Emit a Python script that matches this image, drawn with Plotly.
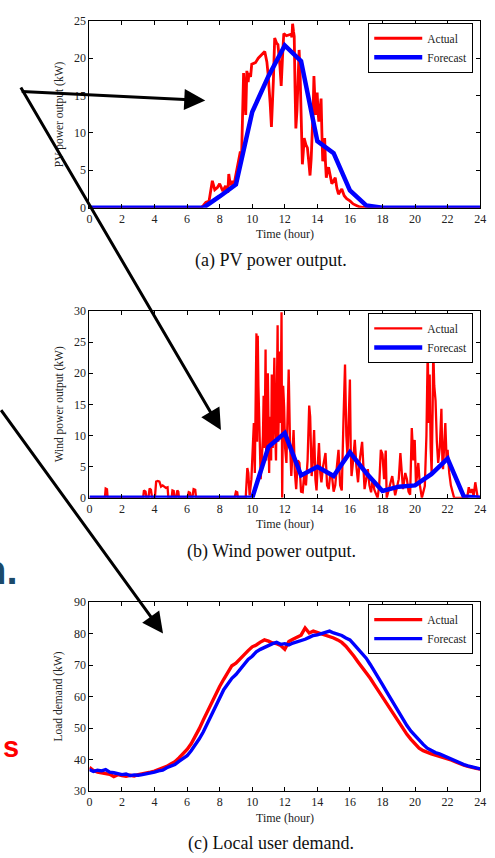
import plotly.graph_objects as go

W, H = 495, 858

# ---------------- data ----------------
hours_tick = list(range(0, 25, 2))

# (a) PV power output
pv_act_t = [0, 6.85, 7.0, 7.15, 7.35, 7.55, 7.7, 7.86, 8.0, 8.2, 8.36, 8.5, 8.56, 8.66, 8.76, 8.86, 8.96, 9.1, 9.27, 9.35,
            9.42, 9.47, 9.55, 9.6, 9.67, 9.75, 9.8, 9.9, 9.97, 10.2, 10.37, 10.55, 10.77, 10.9, 10.97, 11.1, 11.18, 11.3,
            11.38, 11.5, 11.58, 11.7, 11.78, 11.88, 11.94, 12.1, 12.38, 12.44, 12.48, 12.54, 12.58, 12.63, 12.68, 12.75,
            12.8, 12.88, 12.94, 12.98, 13.04, 13.08, 13.14, 13.19, 13.3, 13.39, 13.48, 13.55, 13.62, 13.69, 13.74, 13.79,
            13.84, 13.89, 13.94, 13.99, 14.04, 14.09, 14.16, 14.23, 14.28, 14.33, 14.39, 14.45, 14.5, 14.55, 14.62, 14.69,
            14.8, 14.89, 15.0, 15.1, 15.2, 15.3, 15.4, 15.5, 15.65, 15.8, 16.0, 16.2, 16.4, 16.6, 16.8, 17.0, 24]
pv_act_v = [0, 0, 0.3, 0.7, 0.9, 3.6, 2.4, 2.7, 3.2, 2.2, 2.9, 2.0, 4.5, 3.0, 3.6, 2.8, 4.0, 5.5, 7.5, 7.1,
            12.0, 18.0, 15.0, 12.4, 18.3, 16.8, 18.0, 17.5, 19.2, 19.4, 20.0, 20.4, 20.9, 19.5, 18.0, 14.0, 10.8, 17.0,
            22.7, 22.0, 21.8, 19.0, 16.3, 21.0, 23.3, 23.0, 23.2, 22.8, 24.6, 23.5, 22.9, 16.0, 10.6, 13.0,
            15.4, 21.1, 18.0, 13.7, 9.0, 5.8, 7.5, 9.3, 8.4, 8.0, 6.0, 4.3, 6.5, 9.3, 13.0, 17.6,
            14.0, 12.4, 14.2, 15.4, 13.0, 11.5, 13.0, 14.6, 10.0, 6.2, 8.0, 9.3, 6.0, 4.0, 5.0, 5.4,
            4.2, 3.2, 3.6, 4.0, 2.6, 1.8, 2.2, 2.5, 1.6, 1.2, 0.9, 0.5, 0.3, 0.1, 0.05, 0, 0]
pv_fc_t = [0, 1, 2, 3, 4, 5, 6, 7, 8, 9, 10, 11, 12, 13, 14, 15, 16, 17, 18, 19, 20, 21, 22, 23, 24]
pv_fc_v = [0, 0, 0, 0, 0, 0, 0, 0, 1.5, 3.1, 12.8, 17.6, 21.7, 19.6, 8.9, 7.3, 2.3, 0.3, 0, 0, 0, 0, 0, 0, 0]

# (b) Wind power output
wind_act_t = [0, 0.95, 1.0, 1.08, 1.12, 3.3, 3.35, 3.45, 3.5, 3.62, 3.7, 3.78, 3.85, 4.02, 4.1, 4.2, 4.3, 4.4, 4.5,
              4.6, 4.7, 4.8, 4.85, 5.05, 5.1, 5.18, 5.22, 5.32, 5.4, 5.46, 5.5, 6.02, 6.1, 6.18, 6.22, 6.32, 6.4, 6.5,
              6.55, 8.92, 9.0, 9.08, 9.12, 9.6, 9.7, 9.76, 9.84, 9.95, 10.02, 10.1, 10.16, 10.2, 10.26, 10.3, 10.34,
              10.38, 10.44, 10.52, 10.6, 10.66, 10.7, 10.76, 10.82, 10.86, 10.9, 10.96, 11.04, 11.08, 11.12, 11.16,
              11.2, 11.26, 11.32, 11.36, 11.42, 11.46, 11.52, 11.56, 11.6, 11.64, 11.7, 11.74, 11.8, 11.84, 11.9,
              11.96, 12.02, 12.1, 12.16, 12.24, 12.32, 12.4, 12.47, 12.54, 12.62, 12.7, 12.8, 12.9, 13.0, 13.1, 13.2,
              13.3, 13.4, 13.5, 13.56, 13.65, 13.72, 13.8, 13.88, 13.95, 14.02, 14.1, 14.18, 14.25, 14.35, 14.5,
              14.6, 14.7, 14.8, 14.9, 15.0, 15.1, 15.2, 15.3, 15.4, 15.5, 15.6, 15.7, 15.78, 15.85, 15.92, 16.0,
              16.05, 16.1, 16.2, 16.3, 16.4, 16.5, 16.6, 16.75, 16.9, 17.0, 17.1, 17.2, 17.3, 17.4, 17.5, 17.7,
              17.8, 17.9, 18.0, 18.1, 18.2, 18.26, 18.45, 18.6, 18.78, 18.9, 19.0, 19.1, 19.26, 19.4, 19.5, 19.6,
              19.7, 19.8, 19.9, 19.98, 20.06, 20.2, 20.3, 20.42, 20.6, 20.7, 20.78, 20.84, 20.9, 20.96, 21.02,
              21.08, 21.12, 21.18, 21.26, 21.34, 21.42, 21.52, 21.62, 21.68, 21.72, 21.8, 21.86, 21.94, 22.0,
              22.1, 22.2, 22.3, 22.4, 23.2, 23.3, 23.4, 23.5, 23.6, 23.7, 23.85, 24]
wind_act_v = [0, 0, 1.5, 1.4, 0, 0, 1.2, 1.0, 0, 0, 1.5, 1.3, 0, 0, 2.6, 2.7, 2.6, 1.8, 2.0,
              1.8, 1.6, 1.7, 0, 0, 1.2, 1.1, 0, 0, 1.2, 1.0, 0, 0, 0.9, 0.8, 0, 0, 1.4, 1.3,
              0, 0, 1.0, 0.9, 0, 0, 4.8, 4.0, 0.4, 3.0, 7.0, 12.0, 4.0, 20.0, 26.4, 9.0, 26.0,
              18.0, 12.0, 3.0, 6.7, 10.0, 16.4, 8.0, 23.8, 6.0, 14.0, 20.0, 4.0, 13.0, 12.0, 6.0,
              19.8, 8.0, 17.0, 22.5, 10.0, 6.0, 18.0, 27.7, 9.0, 16.0, 23.5, 12.0, 29.8, 0, 18.0,
              14.6, 8.0, 5.6, 12.0, 20.6, 9.0, 3.5, 7.0, 10.9, 4.0, 1.4, 6.0, 5.6, 1.0, 0.9, 4.0,
              2.0, 6.0, 14.8, 13.0, 3.5, 6.0, 10.9, 3.0, 1.2, 5.0, 8.8, 4.0, 2.5, 5.0, 7.2,
              2.0, 1.4, 4.0, 3.5, 1.0, 2.0, 5.0, 7.7, 2.0, 1.2, 12.0, 21.4, 10.0, 6.7, 12.0, 19.0,
              8.0, 3.5, 6.0, 9.3, 5.0, 2.5, 6.0, 9.0, 1.4, 3.0, 4.6, 2.0, 0.9, 3.0, 1.3, 0,
              2.0, 7.7, 7.0, 3.0, 7.6, 0, 2.0, 3.5, 0.4, 2.0, 3.0, 7.2, 1.4, 4.0, 3.0, 1.0,
              0.5, 11.2, 6.0, 9.3, 2.0, 5.6, 2.0, 0, 1.9, 10.0, 23.8, 12.0, 19.8, 8.0, 4.0,
              14.0, 23.8, 18.0, 15.6, 9.0, 5.6, 8.0, 14.3, 6.0, 4.6, 9.0, 12.0, 6.0, 7.7,
              4.0, 2.0, 1.0, 0, 0, 1.7, 0.8, 1.4, 0.3, 2.5, 0, 0]
wind_fc_t = [0, 1, 2, 3, 4, 5, 6, 7, 8, 9, 10, 11, 12, 13, 14, 15, 16, 17, 18, 19, 20, 21, 22, 23, 24]
wind_fc_v = [0, 0, 0, 0, 0, 0, 0, 0, 0, 0, 0, 8.2, 10.4, 3.6, 5.0, 3.5, 7.3, 4.0, 1.1, 1.8, 2.0, 3.8, 6.3, 0.2, 0]

# (c) Local user demand (15-min steps)
load_t = [i * 0.25 for i in range(97)]
load_act = [37.5, 36.5, 36.0, 35.8, 35.5, 35.3, 34.6, 35.2, 34.9, 34.7, 35.0, 34.8, 35.2, 35.4, 35.6, 36.0,
            36.3, 36.8, 37.4, 37.8, 38.6, 39.3, 40.5, 41.8, 43.2, 45.0, 47.3, 49.8, 52.6, 55.4, 58.0, 60.8,
            63.2, 65.5, 67.6, 69.8, 70.6, 72.0, 73.4, 74.6, 75.8, 76.4, 77.3, 78.0, 77.6, 77.0, 76.8, 76.2,
            75.0, 77.5, 78.2, 78.8, 79.5, 81.8, 80.2, 80.8, 80.4, 80.0, 79.6, 79.2, 78.6, 78.0, 77.2, 76.0,
            74.6, 72.8, 71.0, 69.4, 67.6, 65.8, 63.8, 61.8, 59.8, 57.8, 55.6, 53.8, 51.8, 49.8, 48.0, 46.4,
            44.8, 43.6, 42.8, 42.2, 41.8, 41.4, 41.0, 40.8, 40.4, 39.8, 39.2, 38.6, 38.2, 37.8, 37.4, 37.2, 37.0]
load_fc = [36.8, 36.2, 36.6, 36.4, 36.8, 36.0, 35.8, 35.6, 35.2, 35.4, 34.9, 35.1, 35.0, 35.2, 35.4, 35.8,
           36.0, 36.4, 36.6, 37.4, 37.8, 38.4, 39.4, 40.2, 41.2, 42.8, 44.6, 46.6, 48.8, 51.4, 54.2, 57.0,
           59.8, 62.2, 64.0, 65.8, 67.0, 68.6, 70.2, 71.8, 72.8, 74.2, 75.0, 75.6, 76.4, 76.8, 77.2, 76.6,
           76.8, 76.4, 77.0, 77.4, 77.6, 78.2, 78.8, 79.4, 79.6, 80.0, 80.6, 80.8, 80.2, 79.8, 79.4, 78.6,
           78.0, 76.6, 75.2, 73.8, 72.2, 70.2, 68.2, 66.0, 63.8, 61.6, 59.4, 57.2, 55.0, 52.8, 50.8, 49.0,
           47.6, 46.0, 44.8, 43.6, 42.8, 42.2, 41.8, 41.2, 40.8, 40.0, 39.6, 39.0, 38.4, 38.0, 37.6, 37.2, 37.0]

y_titles = ["PV power output (kW)", "Wind power output (kW)", "Load demand (kW)"]
captions = ["(a) PV power output.", "(b) Wind power output.", "(c) Local user demand."]
series_names = ["Actual", "Forecast"]

# ---------------- layout helpers ----------------
def px_x(p):
    return p / W

def px_y(p):
    return 1 - p / H

RED, BLUE = "#ff0000", "#0000ff"
SERIF = "Liberation Serif, Times New Roman, serif"
TXT = "#222222"

panels = [  # top px, bottom px, y range, y dtick
    dict(top=14, bot=204, yr=[0, 25], dt=5),
    dict(top=309, bot=499, yr=[0, 30], dt=5),
    dict(top=605, bot=797, yr=[30, 90], dt=10),
]
X0, X1 = 88, 486

fig = go.Figure()

data = [
    (pv_act_t, pv_act_v, pv_fc_t, pv_fc_v, 2.8, 4.5),
    (wind_act_t, wind_act_v, wind_fc_t, wind_fc_v, 2.3, 4.5),
    (load_t, load_act, load_t, load_fc, 3.4, 3.4),
]
legend_keys = ["legend", "legend2", "legend3"]
for i, (at, av, ft, fv, wa, wf) in enumerate(data):
    xa = "x" if i == 0 else f"x{i+1}"
    ya = "y" if i == 0 else f"y{i+1}"
    fig.add_trace(go.Scatter(x=at, y=av, mode="lines", name=series_names[0],
                             line=dict(color=RED, width=wa), xaxis=xa, yaxis=ya,
                             legend=legend_keys[i]))
    fig.add_trace(go.Scatter(x=ft, y=fv, mode="lines", name=series_names[1],
                             line=dict(color=BLUE, width=wf), xaxis=xa, yaxis=ya,
                             legend=legend_keys[i]))

axis_common = dict(showline=True, linecolor="black", linewidth=1, mirror="ticks",
                   ticks="inside", ticklen=4, tickcolor="black", showgrid=False,
                   zeroline=False, tickfont=dict(family=SERIF, size=12, color=TXT))

layout = dict(width=W, height=H, margin=dict(l=0, r=0, t=0, b=0),
              paper_bgcolor="white", plot_bgcolor="white", showlegend=True)
annotations = []
for i, p in enumerate(panels):
    xk = "xaxis" if i == 0 else f"xaxis{i+1}"
    yk = "yaxis" if i == 0 else f"yaxis{i+1}"
    ya = "y" if i == 0 else f"y{i+1}"
    xa = "x" if i == 0 else f"x{i+1}"
    layout[xk] = dict(domain=[px_x(X0), px_x(X1)], range=[0, 24], tickmode="array",
                      tickvals=hours_tick, anchor=ya, **axis_common)
    layout[yk] = dict(domain=[px_y(p["bot"]), px_y(p["top"])], range=p["yr"], dtick=p["dt"],
                      tick0=p["yr"][0], anchor=xa, **axis_common)
    leg = dict(x=px_x(372), y=px_y(p["top"] + 2), xanchor="left", yanchor="top",
               bgcolor="white", bordercolor="black", borderwidth=1,
               font=dict(family=SERIF, size=11.5, color=TXT), tracegroupgap=0,
               itemwidth=48)
    layout[legend_keys[i]] = leg
    # x title
    annotations.append(dict(text="Time (hour)", xref="paper", yref="paper", x=px_x(287),
                            y=px_y(p["bot"] + 27), showarrow=False, xanchor="center", yanchor="middle",
                            font=dict(family=SERIF, size=12, color=TXT)))
    # y title
    annotations.append(dict(text=y_titles[i], xref="paper", yref="paper", x=px_x(57),
                            y=px_y((p["top"] + p["bot"]) / 2), showarrow=False, textangle=-90,
                            xanchor="center", yanchor="middle",
                            font=dict(family=SERIF, size=11.5, color=TXT)))

cap_y = [258, 554, 850]
for i, c in enumerate(captions):
    annotations.append(dict(text=c, xref="paper", yref="paper", x=px_x(273), y=px_y(cap_y[i]),
                            showarrow=False, xanchor="center", yanchor="middle",
                            font=dict(family=SERIF, size=18, color="#111111")))

# arrows from the slide overlay
arrows = [((21, 86), (206, 95)), ((21, 86), (222, 430)), ((-10, 412), (163, 637))]
for (sx, sy), (tx, ty) in arrows:
    annotations.append(dict(text="", xref="paper", yref="paper", x=px_x(tx), y=px_y(ty),
                            ax=sx - tx, ay=sy - ty, showarrow=True, arrowhead=2, arrowsize=1.4,
                            arrowwidth=3, arrowcolor="black"))

# clipped slide text at the left edge
annotations.append(dict(text="<b>n.</b>", xref="paper", yref="paper", x=px_x(17), y=px_y(572),
                        showarrow=False, xanchor="right", yanchor="middle",
                        font=dict(family="Liberation Sans, Arial, sans-serif", size=40, color="#1b4a6b")))
annotations.append(dict(text="<b>s</b>", xref="paper", yref="paper", x=px_x(18), y=px_y(752),
                        showarrow=False, xanchor="right", yanchor="middle",
                        font=dict(family="Liberation Sans, Arial, sans-serif", size=29, color="#ff0000")))

layout["annotations"] = annotations
fig.update_layout(**layout)
fig.write_html("out.html")
